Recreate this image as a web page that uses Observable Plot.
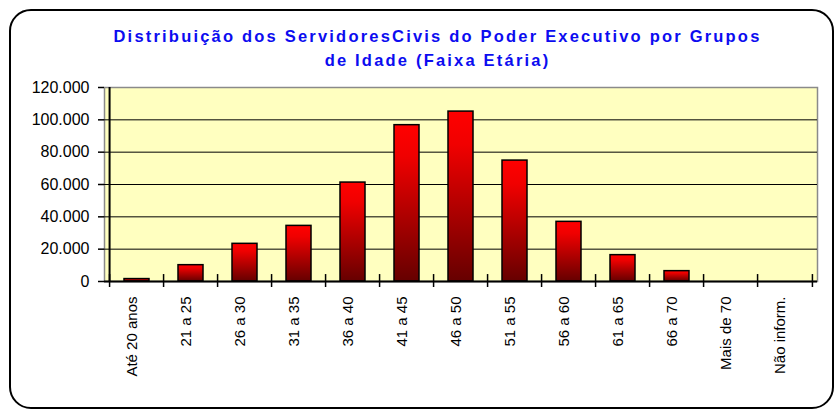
<!DOCTYPE html>
<html><head><meta charset="utf-8">
<script src="https://cdn.jsdelivr.net/npm/d3@7"></script>
<script src="https://cdn.jsdelivr.net/npm/@observablehq/plot@0.6"></script>
<style>
body{margin:0;background:#fff;}
#wrap{position:relative;width:839px;height:409px;overflow:hidden;background:#fff;}
#border{position:absolute;left:9px;top:9px;width:821px;height:396px;border:2px solid #000;border-radius:22px;}
.title{position:absolute;left:0;width:875px;text-align:center;font:bold 16.5px "Liberation Sans",Arial,sans-serif;letter-spacing:2.2px;color:#0c0cf0;line-height:24px;white-space:nowrap;}
#chart{position:absolute;left:0;top:0;}
</style></head>
<body>
<div id="wrap">
  <div id="border"></div>
  <div class="title" style="top:24px">Distribuição dos ServidoresCivis do Poder Executivo por Grupos</div>
  <div class="title" style="top:48px">de Idade (Faixa Etária)</div>
  <div id="chart"></div>
</div>
<script>
const categories = ["Até 20 anos","21 a 25","26 a 30","31 a 35","36 a 40","41 a 45","46 a 50","51 a 55","56 a 60","61 a 65","66 a 70","Mais de 70","Não inform."];
const values = [1500,10100,23300,34400,61200,96700,105100,74800,36900,16300,6400,0,0];
const yTicks = [0,20000,40000,60000,80000,100000,120000];
const yTickLabels = ["0","20.000","40.000","60.000","80.000","100.000","120.000"];

const data = categories.map((c,i)=>({cat:c, value:values[i]}));
const W=839,H=409,mL=104,mR=22,mT=87,mB=128;
const step=(W-mL-mR)/categories.length;

const chart = Plot.plot({
  width:W,height:H,marginLeft:mL,marginRight:mR,marginTop:mT,marginBottom:mB,
  style:{fontFamily:"'Liberation Sans',Arial,sans-serif",background:"transparent",color:"#000",overflow:"visible"},
  x:{domain:categories,paddingInner:0.54,paddingOuter:0.27,axis:null},
  y:{domain:[0,120000],axis:null},
  marks:[
    Plot.frame({fill:"#ffffc0",stroke:"#8a8a8a",strokeWidth:1.5}),
    Plot.gridY(yTicks.slice(1,-1),{stroke:"#000",strokeOpacity:1,strokeWidth:1}),
    Plot.barY(data,{x:"cat",y:"value",fill:"url(#barGrad)",stroke:"#000",strokeWidth:1.5}),
    Plot.ruleY([0],{stroke:"#000",strokeWidth:2}),
    Plot.ruleX([categories[0]],{y1:0,y2:120000,dx:-step/2,stroke:"#000",strokeWidth:2}),
    Plot.ruleX(categories,{y1:-3700,y2:4300,dx:-step/2,stroke:"#000",strokeWidth:1.5}),
    Plot.ruleX([categories[categories.length-1]],{y1:-3700,y2:4300,dx:step/2,stroke:"#000",strokeWidth:1.5}),
    Plot.axisY(yTicks,{tickSize:6,tickPadding:9,fontSize:16,label:null,stroke:"#000",strokeWidth:1.5,
      tickFormat:d=>yTickLabels[yTicks.indexOf(d)]}),
    Plot.text(categories,{x:d=>d,frameAnchor:"bottom",rotate:-90,textAnchor:"end",dy:15,fontSize:15,fill:"#000"})
  ]
});
const defs = d3.select(chart).insert("defs",":first-child");
const g = defs.append("linearGradient").attr("id","barGrad").attr("x1",0).attr("y1",0).attr("x2",0).attr("y2",1);
g.append("stop").attr("offset","0").attr("stop-color","#ff0000");
g.append("stop").attr("offset","0.2").attr("stop-color","#f00000");
g.append("stop").attr("offset","1").attr("stop-color","#660000");
document.getElementById("chart").appendChild(chart);
</script>
</body></html>
